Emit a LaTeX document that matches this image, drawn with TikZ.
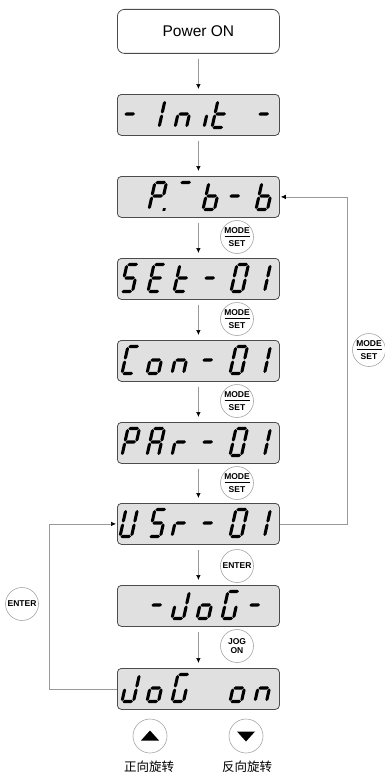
\documentclass[tikz,border=0pt]{standalone}
\usepackage{fontspec}
\setmainfont{Liberation Sans}
\newfontfamily\cjk{Noto Sans CJK SC}
\usetikzlibrary{arrows.meta}

% seven-segment geometry (pt): width, height, corner gap, half thickness
\def\dW{11.5}
\def\dH{27}
\def\dg{0.5}
\def\sh{1.55}
% pointed segments
\newcommand\hseg[3]{\fill (#1,#3) -- ({#1+\sh},{#3+\sh}) -- ({#2-\sh},{#3+\sh}) -- (#2,#3)
  -- ({#2-\sh},{#3-\sh}) -- ({#1+\sh},{#3-\sh}) -- cycle;}
\newcommand\vseg[3]{\fill (#1,#2) -- ({#1+\sh},{#2+\sh}) -- ({#1+\sh},{#3-\sh}) -- (#1,#3)
  -- ({#1-\sh},{#3-\sh}) -- ({#1-\sh},{#2+\sh}) -- cycle;}
\newcommand\segA{\hseg{\dg}{\dW-\dg}{\dH}}
\newcommand\segB{\vseg{\dW}{\dH/2+\dg}{\dH-\dg}}
\newcommand\segC{\vseg{\dW}{\dg}{\dH/2-\dg}}
\newcommand\segD{\hseg{\dg}{\dW-\dg}{0}}
\newcommand\segE{\vseg{0}{\dg}{\dH/2-\dg}}
\newcommand\segF{\vseg{0}{\dH/2+\dg}{\dH-\dg}}
\newcommand\segG{\hseg{\dg}{\dW-\dg}{\dH/2}}
\newcommand\segDP{\fill (\dW+2.2,-1.4) rectangle ++(2.8,2.8);}
% one character cell: #1 = left x, #2 = baseline y, #3 = segments (italic lean to the right)
\newcommand\lcdchar[3]{\begin{scope}[shift={(#1,#2)},yscale=-1,xslant=-0.22]#3\end{scope}}

\tikzset{
  lcd/.style={draw=black!70,fill=black!12,rounded corners=4pt,line width=0.8pt,
    minimum width=162pt,minimum height=41pt,inner sep=0pt,anchor=north west},
  startbox/.style={draw=black!70,fill=white,rounded corners=7pt,line width=0.8pt,
    minimum width=162pt,minimum height=44pt,inner sep=0pt,anchor=north west,
    font=\fontsize{15.5}{18}\selectfont},
  btn/.style={circle,draw=black!35,fill=white,line width=0.6pt,minimum size=33pt,
    inner sep=0pt,align=center,font=\fontsize{8.5}{10}\selectfont\bfseries},
  flow/.style={draw=black!40,line width=0.6pt,-{Latex[length=5pt,width=4.5pt,color=black]}},
  down/.style={flow,shorten <=5pt,shorten >=5pt},
  loop/.style={flow,shorten >=1pt},
  cnlabel/.style={font=\cjk\fontsize{12.5}{14}\selectfont}
}

\begin{document}
\begin{tikzpicture}[x=1pt,y=-1pt]
\useasboundingbox (0,0) rectangle (385,776);

% boxes
\node[startbox] (power) at (117,9) {Power ON};
\node[lcd] (init)  at (117,94)  {};
\node[lcd] (pbb)   at (117,176) {};
\node[lcd] (set)   at (117,258) {};
\node[lcd] (con)   at (117,340) {};
\node[lcd] (par)   at (117,422) {};
\node[lcd] (usr)   at (117,503) {};
\node[lcd] (jog)   at (117,585) {};
\node[lcd] (jogon) at (117,668) {};

% - Init -
\lcdchar{121}{127.5}{\segG}
\lcdchar{159}{127.5}{\segE\segF}
\lcdchar{175}{127.5}{\segG\segE\segC}
\lcdchar{204}{127.5}{\segE}
\lcdchar{212}{127.5}{\segF\segE\segG\segD}
\lcdchar{255}{127.5}{\segG}

% P. b-b
\lcdchar{149}{209.5}{\segA\segB\segF\segG\segE\segDP}
\lcdchar{174}{209.5}{\segA}
\lcdchar{203}{209.5}{\segF\segE\segG\segC\segD}
\lcdchar{226}{209.5}{\segG}
\lcdchar{256}{209.5}{\segF\segE\segG\segC\segD}

% SEt-01
\lcdchar{121}{291.5}{\segA\segF\segG\segC\segD}
\lcdchar{148}{291.5}{\segA\segF\segG\segE\segD}
\lcdchar{174}{291.5}{\segF\segE\segG\segD}
\lcdchar{201}{291.5}{\segG}
\lcdchar{231}{291.5}{\segA\segB\segC\segD\segE\segF}
\lcdchar{253}{291.5}{\segB\segC}

% Con-01
\lcdchar{122}{373.5}{\segA\segF\segE\segD}
\lcdchar{147}{373.5}{\segG\segC\segD\segE}
\lcdchar{172}{373.5}{\segG\segE\segC}
\lcdchar{199}{373.5}{\segG}
\lcdchar{230}{373.5}{\segA\segB\segC\segD\segE\segF}
\lcdchar{253}{373.5}{\segB\segC}

% PAr-01
\lcdchar{122}{455.5}{\segA\segB\segF\segG\segE}
\lcdchar{147}{455.5}{\segA\segB\segC\segE\segF\segG}
\lcdchar{172}{455.5}{\segE\segG}
\lcdchar{199}{455.5}{\segG}
\lcdchar{230}{455.5}{\segA\segB\segC\segD\segE\segF}
\lcdchar{253}{455.5}{\segB\segC}

% USr-01
\lcdchar{120}{536.5}{\segB\segC\segD\segE\segF}
\lcdchar{149}{536.5}{\segA\segF\segG\segC\segD}
\lcdchar{172}{536.5}{\segE\segG}
\lcdchar{199}{536.5}{\segG}
\lcdchar{230}{536.5}{\segA\segB\segC\segD\segE\segF}
\lcdchar{253}{536.5}{\segB\segC}

% -JoG-
\lcdchar{148}{618.5}{\segG}
\lcdchar{172}{618.5}{\segB\segC\segD\segE}
\lcdchar{197}{618.5}{\segC\segD\segE\segG}
\lcdchar{222}{618.5}{\segA\segF\segE\segD\segC}
\lcdchar{246}{618.5}{\segG}

% JoG on
\lcdchar{122}{701.5}{\segB\segC\segD\segE}
\lcdchar{147}{701.5}{\segC\segD\segE\segG}
\lcdchar{172}{701.5}{\segA\segF\segE\segD\segC}
\lcdchar{230}{701.5}{\segC\segD\segE\segG}
\lcdchar{255}{701.5}{\segG\segE\segC}

% main sequence
\draw[down] (power) -- (init);
\draw[down] (init) -- (pbb);
\draw[down] (pbb) -- (set);
\draw[down] (set) -- (con);
\draw[down] (con) -- (par);
\draw[down] (par) -- (usr);
\draw[down] (usr) -- (jog);
\draw[down] (jog) -- (jogon);

% return loops
\draw[loop] (usr.east) -- ++(67,0) |- (pbb.east);
\draw[loop] (jogon.west) -- ++(-68,0) |- (usr.west);

% key buttons
\node[btn] (k1) at (237,237) {MODE\\[3pt]SET};
\node[btn] (k2) at (237,319) {MODE\\[3pt]SET};
\node[btn] (k3) at (237,401) {MODE\\[3pt]SET};
\node[btn] (k4) at (237,483) {MODE\\[3pt]SET};
\node[btn] (k5) at (369,350) {MODE\\[3pt]SET};
\foreach \k in {k1,k2,k3,k4,k5}
  \draw[line width=0.5pt] ([xshift=-12.5pt,yshift=1pt]\k.center) -- ([xshift=12.5pt,yshift=1pt]\k.center);
\node[btn] (ent)  at (237,566) {ENTER};
\node[btn] (entl) at (22,604)  {ENTER};
\node[btn] (jkey) at (237,646) {JOG\\[-1pt]ON};

% direction keys
\node[btn,minimum size=34pt] (up)   at (150,736) {};
\node[btn,minimum size=34pt] (dn)   at (246,736) {};
\fill ([xshift=-9pt,yshift=-4.5pt]up.center) -- ([xshift=9pt,yshift=-4.5pt]up.center) -- ([yshift=5.5pt]up.center) -- cycle;
\fill ([xshift=-9pt,yshift=4.5pt]dn.center) -- ([xshift=9pt,yshift=4.5pt]dn.center) -- ([yshift=-5.5pt]dn.center) -- cycle;
\node[cnlabel] (lup) at (149,767) {正向旋转};
\node[cnlabel] (ldn) at (247,767) {反向旋转};
\end{tikzpicture}
\end{document}
